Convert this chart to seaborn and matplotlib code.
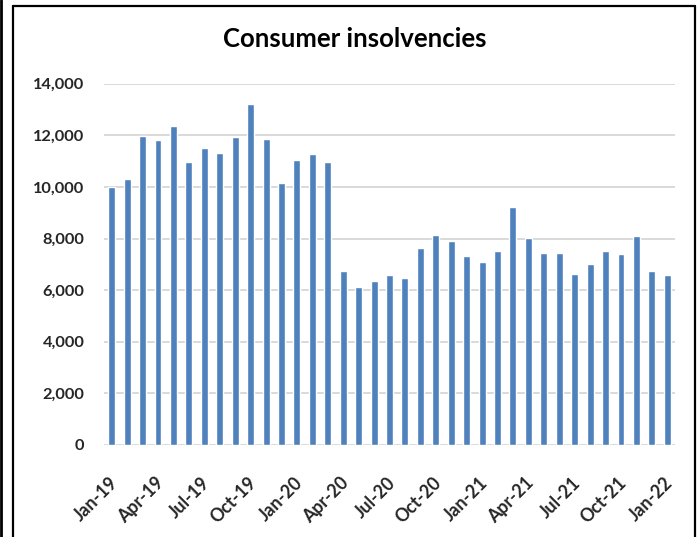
import matplotlib
matplotlib.use("Agg")
import matplotlib.pyplot as plt
import matplotlib.transforms as mtransforms
import seaborn as sns
import pandas as pd
from matplotlib.lines import Line2D
from matplotlib.ticker import FuncFormatter

months = ["Jan-19", "Feb-19", "Mar-19", "Apr-19", "May-19", "Jun-19", "Jul-19", "Aug-19",
          "Sep-19", "Oct-19", "Nov-19", "Dec-19", "Jan-20", "Feb-20", "Mar-20", "Apr-20",
          "May-20", "Jun-20", "Jul-20", "Aug-20", "Sep-20", "Oct-20", "Nov-20", "Dec-20",
          "Jan-21", "Feb-21", "Mar-21", "Apr-21", "May-21", "Jun-21", "Jul-21", "Aug-21",
          "Sep-21", "Oct-21", "Nov-21", "Dec-21", "Jan-22"]
insolvencies = [10000, 10320, 11990, 11810, 12380, 10950, 11520, 11320,
                11950, 13210, 11840, 10150, 11050, 11280, 10950, 6725,
                6125, 6360, 6595, 6490, 7650, 8140, 7920, 7320,
                7085, 7525, 9240, 8015, 7445, 7445, 6620, 7020,
                7525, 7405, 8105, 6750, 6595]
title = "Consumer insolvencies"

sns.set_theme(style="white")
plt.rcParams["font.family"] = ["Lato", "DejaVu Sans"]

df = pd.DataFrame({"month": months, "value": insolvencies})

fig = plt.figure(figsize=(6.98, 5.37), dpi=100)
ax = fig.add_axes([104 / 698, 1 - 445 / 537, (675 - 104) / 698, (445 - 83.7) / 537])

sns.barplot(data=df, x="month", y="value", color="#4F81BD", width=0.45,
            saturation=1, ax=ax, zorder=3)

ax.set_ylim(0, 14000)
ax.set_yticks(range(0, 14001, 2000))
ax.yaxis.set_major_formatter(FuncFormatter(lambda v, p: f"{int(v):,}"))
ax.set_xlim(-0.5, len(months) - 0.5)
ax.grid(axis="y", color="#d9d9d9", linewidth=1.4, zorder=0)
ax.grid(axis="x", visible=False)
for s in ax.spines.values():
    s.set_visible(False)
ax.set_xlabel("")
ax.set_ylabel("")

ticks = list(range(0, len(months), 3))
ax.set_xticks(ticks)
ax.set_xticklabels([months[i] for i in ticks], rotation=45, ha="right", va="top",
                   rotation_mode="anchor", fontsize=12.8, fontweight="bold")
ax.tick_params(axis="x", length=0, pad=21)
ax.tick_params(axis="y", length=0, pad=14, labelsize=11.8)
offset = mtransforms.ScaledTranslation(-3 / 100, 0, fig.dpi_scale_trans)
for lbl in ax.get_xticklabels():
    lbl.set_transform(lbl.get_transform() + offset)
for lbl in ax.get_yticklabels():
    lbl.set_fontweight("bold")

fig.text(355 / 698, 1 - 39 / 537, title, ha="center", va="center",
         fontsize=18.5, fontweight="bold", color="black")

# frame lines
W, H = 698, 537
def px_line(x0, y0, x1, y1, lw):
    fig.add_artist(Line2D([x0 / W, x1 / W], [1 - y0 / H, 1 - y1 / H],
                          transform=fig.transFigure, color="black", linewidth=lw))
px_line(1.3, 0, 1.3, H, 2.0)
px_line(12.5, 5.5, 12.5, H, 1.6)
px_line(12.5, 5.5, 695, 5.5, 1.6)
px_line(695, 5.5, 695, H, 1.6)

fig.savefig("out.png", dpi=100)
